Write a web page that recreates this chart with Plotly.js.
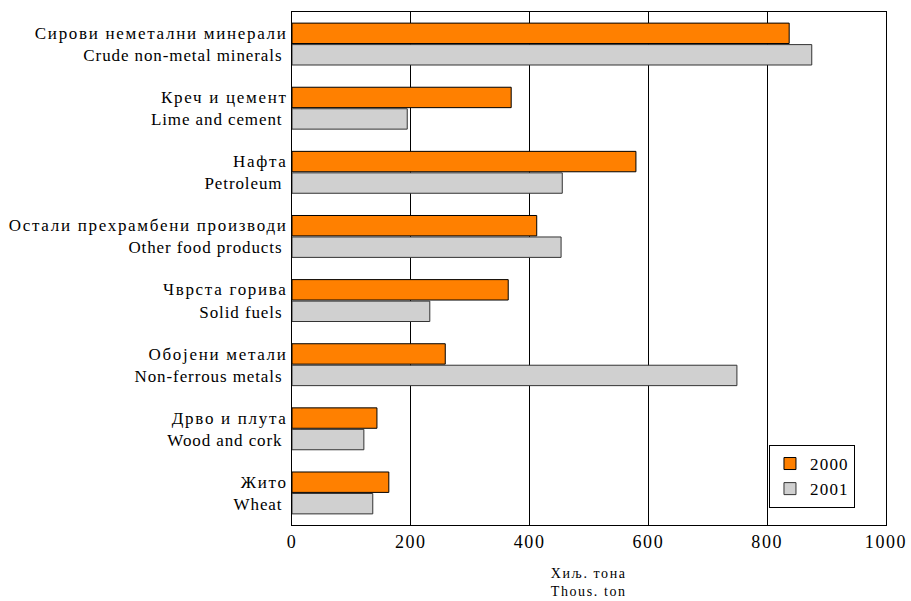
<!DOCTYPE html>
<html><head><meta charset="utf-8">
<script src="https://cdn.plot.ly/plotly-3.0.1.min.js"></script>
<style>
body{margin:0;background:#fff}#c{width:911px;height:601px}
.ytick tspan.line:first-child{letter-spacing:1.7px}
.ytick tspan.line:last-child{letter-spacing:0.9px}
.xtick text{letter-spacing:1.6px}
.legendtext{letter-spacing:1.2px}
.annotation text{letter-spacing:1.6px}
</style>
</head><body><div id="c"></div>
<script>
var catsMk = ["Сирови неметални минерали","Креч и цемент","Нафта","Остали прехрамбени производи","Чврста горива","Обојени метали","Дрво и плута","Жито"];
var catsEn = ["Crude non-metal minerals","Lime and cement","Petroleum","Other food products","Solid fuels","Non-ferrous metals","Wood and cork","Wheat"];
var v2000 = [837, 369, 579, 412, 364, 258, 143, 163];
var v2001 = [875, 194, 455, 453, 232, 749, 121, 136];
var xTicks = [0, 200, 400, 600, 800, 1000];
var unitMk = "Хиљ. тона";
var unitEn = "Thous. ton";

var labels = catsMk.map(function(m, i){ return m + "<br>" + catsEn[i] + " "; });
var font = "Liberation Serif, Times New Roman, serif";
var data = [
  {type:"bar", orientation:"h", name:"2000", y:labels, x:v2000,
   marker:{color:"#FF8000", line:{color:"#000000", width:1}}},
  {type:"bar", orientation:"h", name:"2001", y:labels, x:v2001,
   marker:{color:"#D0D0D0", line:{color:"#333333", width:1}}}
];
var layout = {
  width:911, height:601,
  margin:{l:292, r:25, t:12, b:76},
  paper_bgcolor:"#fff", plot_bgcolor:"#fff",
  barmode:"group", bargap:0.33, bargroupgap:0.05,
  font:{family:font, color:"#000", size:17},
  showlegend:true,
  legend:{x:0.803, y:0.156, xanchor:"left", yanchor:"top", bgcolor:"#fff",
          bordercolor:"#000", borderwidth:1, font:{size:17, family:font},
          traceorder:"normal", tracegroupgap:0, itemwidth:30},
  xaxis:{range:[0,1000], tickvals:xTicks, ticks:"", showgrid:true, gridcolor:"#000", gridwidth:1,
         zeroline:false, showline:true, linecolor:"#000", mirror:true,
         tickfont:{size:18, family:font}},
  yaxis:{autorange:"reversed", showgrid:false, zeroline:false, showline:true, linecolor:"#000", mirror:true,
         ticks:"", tickfont:{size:17, family:font}},
  annotations:[
    {text:unitMk + "<br>" + unitEn, xref:"paper", yref:"paper", x:0.5, y:0, xanchor:"center", yanchor:"middle",
     yshift:-57, showarrow:false, font:{size:14, family:font}}
  ]
};
Plotly.newPlot("c", data, layout, {displayModeBar:false, staticPlot:true});
</script></body></html>
